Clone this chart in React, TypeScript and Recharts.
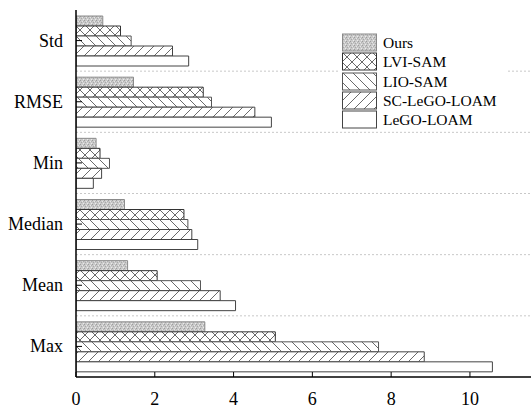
import { Bar, BarChart, CartesianGrid, XAxis, YAxis } from "recharts";

const categories = ["Std", "RMSE", "Min", "Median", "Mean", "Max"];
const ours = [0.68, 1.46, 0.51, 1.23, 1.31, 3.27];
const lviSam = [1.13, 3.23, 0.61, 2.74, 2.06, 5.06];
const lioSam = [1.4, 3.44, 0.85, 2.84, 3.16, 7.68];
const scLegoLoam = [2.45, 4.54, 0.65, 2.94, 3.66, 8.84];
const legoLoam = [2.86, 4.96, 0.44, 3.09, 4.05, 10.57];
const xTicks = [0, 2, 4, 6, 8, 10];

const data = categories.map((name, i) => ({
  name,
  ours: ours[i],
  lvi: lviSam[i],
  lio: lioSam[i],
  sc: scLegoLoam[i],
  lego: legoLoam[i],
}));

const font = "'Liberation Serif', 'Times New Roman', serif";
const hatch = "#444";

const series = [
  { key: "ours", name: "Ours", fill: "url(#pat-ours)", stroke: "#8a8a8a" },
  { key: "lvi", name: "LVI-SAM", fill: "url(#pat-cross)", stroke: "#333" },
  { key: "lio", name: "LIO-SAM", fill: "url(#pat-back)", stroke: "#555" },
  { key: "sc", name: "SC-LeGO-LOAM", fill: "url(#pat-fwd)", stroke: "#444" },
  { key: "lego", name: "LeGO-LOAM", fill: "#fff", stroke: "#444" },
];

function Patterns() {
  return (
    <defs>
      <pattern id="pat-ours" patternUnits="userSpaceOnUse" width="4" height="4">
        <rect width="4" height="4" fill="#c9c9c9" />
        <rect x="0" y="0" width="1" height="1" fill="#9d9d9d" />
        <rect x="2" y="1" width="1" height="1" fill="#e6e6e6" />
        <rect x="1" y="2" width="1" height="1" fill="#a8a8a8" />
        <rect x="3" y="3" width="1" height="1" fill="#ebebeb" />
        <rect x="3" y="1" width="1" height="1" fill="#b2b2b2" />
      </pattern>
      <pattern id="pat-cross" patternUnits="userSpaceOnUse" width="10" height="10">
        <rect width="10" height="10" fill="#fff" />
        <path d="M0,0 L10,10 M10,0 L0,10" stroke={hatch} strokeWidth="0.8" />
      </pattern>
      <pattern id="pat-back" patternUnits="userSpaceOnUse" width="10" height="10">
        <rect width="10" height="10" fill="#fff" />
        <path d="M0,0 L10,10 M-1,9 L1,11 M9,-1 L11,1" stroke={hatch} strokeWidth="0.8" />
      </pattern>
      <pattern id="pat-fwd" patternUnits="userSpaceOnUse" width="10" height="10">
        <rect width="10" height="10" fill="#fff" />
        <path d="M0,10 L10,0 M-1,1 L1,-1 M9,11 L11,9" stroke={hatch} strokeWidth="0.8" />
      </pattern>
    </defs>
  );
}

function YTick(props: any) {
  const { x, y, payload } = props;
  return (
    <g>
      <line x1={x} y1={y} x2={x + 6} y2={y} stroke="#000" />
      <text x={x - 13} y={y} textAnchor="end" dominantBaseline="central" fontSize={18} fontFamily={font} fill="#000">
        {payload.value}
      </text>
    </g>
  );
}

function XTick(props: any) {
  const { x, y, payload } = props;
  return (
    <g>
      <line x1={x} y1={y} x2={x} y2={y - 5} stroke="#000" />
      <text x={x} y={y + 28} textAnchor="middle" fontSize={18} fontFamily={font} fill="#000">
        {payload.value}
      </text>
    </g>
  );
}

function LegendBox() {
  return (
    <div
      style={{
        position: "absolute",
        left: 338,
        top: 31,
        width: 166,
        background: "#fff",
        padding: "2px 0 2px 4px",
        fontFamily: font,
        fontSize: 15.5,
      }}
    >
      {series.map((s) => (
        <div key={s.key} style={{ display: "flex", alignItems: "center", height: 19.3 }}>
          <svg width={36} height={19} style={{ display: "block" }}>
            <rect x={0.5} y={1} width={34} height={17} fill={s.fill} stroke={s.stroke} />
          </svg>
          <span style={{ marginLeft: 5, lineHeight: "19px" }}>{s.name}</span>
        </div>
      ))}
    </div>
  );
}

export default function App() {
  return (
    <div style={{ position: "relative", width: 531, height: 409, background: "#fff" }}>
      <style>{"body{margin:0}"}</style>
      <BarChart
        width={531}
        height={409}
        data={data}
        layout="vertical"
        margin={{ top: 10, right: 0, bottom: 0, left: 0 }}
        barSize={10}
        barGap={0}
      >
        <Patterns />
        <CartesianGrid
          vertical={false}
          stroke="#c8c8c8"
          strokeDasharray="2 2"
          horizontalCoordinatesGenerator={({ offset }: any) =>
            categories.slice(1).map((_, i) => offset.top + ((i + 1) * offset.height) / categories.length)
          }
        />
        <XAxis
          type="number"
          domain={[0, 11.55]}
          ticks={xTicks}
          height={32}
          tickSize={0}
          tickMargin={0}
          tick={<XTick />}
          axisLine={{ stroke: "#000", strokeWidth: 1.5 }}
          allowDataOverflow
        />
        <YAxis
          type="category"
          dataKey="name"
          width={76}
          tickSize={0}
          tickMargin={0}
          tick={<YTick />}
          axisLine={{ stroke: "#000", strokeWidth: 1.5 }}
        />
        {series.map((s) => (
          <Bar
            key={s.key}
            dataKey={s.key}
            name={s.name}
            fill={s.fill}
            stroke={s.stroke}
            strokeWidth={1}
            isAnimationActive={false}
          />
        ))}
      </BarChart>
      <LegendBox />
    </div>
  );
}
